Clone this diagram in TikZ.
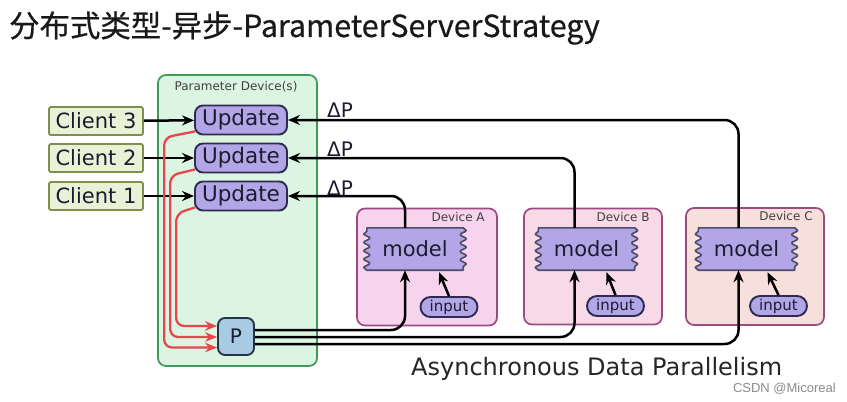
\documentclass[tikz,border=0pt]{standalone}
\usepackage{fontspec}
\setmainfont{DejaVu Sans}
\newfontfamily\cjkfont[FakeBold=0.6]{Noto Sans CJK SC}
\newfontfamily\csdnfont{Liberation Sans}
\usetikzlibrary{calc,arrows.meta,decorations.pathmorphing}
\definecolor{pdfill}{HTML}{DCF5E2}
\definecolor{pdline}{HTML}{3F9A56}
\definecolor{clfill}{HTML}{E9F1D7}
\definecolor{clline}{HTML}{7F8E4C}
\definecolor{upfill}{HTML}{B3A6E6}
\definecolor{upline}{HTML}{2E2A50}
\definecolor{pfill}{HTML}{A8CBE4}
\definecolor{pline}{HTML}{263545}
\definecolor{devline}{HTML}{9E4A82}
\definecolor{devAfill}{HTML}{F6D4EE}
\definecolor{devBfill}{HTML}{F7D9E7}
\definecolor{devCfill}{HTML}{F7E0DB}
\definecolor{redline}{HTML}{E8464E}
\definecolor{txt}{HTML}{1C1C30}
\pgfdeclarelayer{bg}
\pgfdeclarelayer{mid}
\pgfsetlayers{bg,mid,main}
\tikzset{
  clientbox/.style={draw=clline, fill=clfill, line width=1.8pt, rounded corners=2pt,
    minimum width=94pt, minimum height=28pt, inner sep=0pt, font=\fontsize{21}{21}\selectfont, text=txt},
  updbox/.style={draw=upline, fill=upfill, line width=1.9pt, rounded corners=8pt,
    minimum width=92pt, minimum height=29pt, inner sep=0pt, font=\fontsize{21.5}{21.5}\selectfont, text=txt},
  pbox/.style={draw=pline, fill=pfill, line width=1.9pt, rounded corners=7pt,
    minimum width=36pt, minimum height=37pt, inner sep=0pt, font=\fontsize{20}{20}\selectfont, text=txt},
  devbox/.style={draw=devline, line width=1.7pt, rounded corners=8pt, inner sep=0pt},
  devlabel/.style={font=\fontsize{12}{12}\selectfont, text=black!75, inner sep=0pt},
  modelnode/.style={minimum width=96pt, minimum height=42pt, inner sep=0pt,
    font=\fontsize{21}{21}\selectfont, text=txt},
  modelshape/.style={draw=upline!85, fill=upfill, line width=1.6pt, line join=round},
  inbox/.style={draw=upline, fill=upfill, line width=1.9pt, rounded corners=10pt,
    minimum width=57pt, minimum height=20pt, inner sep=0pt, font=\fontsize{15}{15}\selectfont, text=txt},
  arr/.style={draw=black, line width=2.5pt, -{Stealth[length=12pt,width=10pt]}},
  redarr/.style={draw=redline, line width=2.3pt, rounded corners=8pt, -{Stealth[length=12pt,width=9.5pt]}},
  dplabel/.style={font=\fontsize{20}{20}\selectfont, text=txt, inner sep=0pt, anchor=base west},
  wave/.style={decoration={snake, segment length=8.4pt, amplitude=3pt}}
}
\newcommand{\modelwave}[1]{%
  \begin{pgfonlayer}{mid}
  \path[modelshape] (#1.north west) -- (#1.north east)
     decorate[wave]{-- (#1.south east)} -- (#1.south west)
     decorate[wave]{-- (#1.north west)} -- cycle;
  \end{pgfonlayer}}
\begin{document}
\begin{tikzpicture}[x=1pt, y=-1pt]
\useasboundingbox (0,0) rectangle (847,402);
\begin{pgfonlayer}{bg}
\fill[white] (0,0) rectangle (847,402);
\end{pgfonlayer}

% title
\node[anchor=west, inner sep=0pt, font=\cjkfont\fontsize{30.4}{30.4}\selectfont, text=black!90] (title) at (9,28) {分布式类型-异步-ParameterServerStrategy};

% containers
\begin{pgfonlayer}{bg}
\node[draw=pdline, fill=pdfill, line width=1.7pt, rounded corners=8pt, minimum width=159pt, minimum height=291pt, inner sep=0pt] (pd) at (237.5,220.5) {};
\node[devbox, fill=devAfill, minimum width=140pt, minimum height=117pt] (devA) at (427,267) {};
\node[devbox, fill=devBfill, minimum width=138pt, minimum height=116pt] (devB) at (593,266.5) {};
\node[devbox, fill=devCfill, minimum width=138pt, minimum height=117pt] (devC) at (755,266.5) {};
\end{pgfonlayer}
\node[devlabel] (pdl) at (236,87) {Parameter Device(s)};
\node[devlabel, anchor=east] (dAl) at ($(devA.north east)+(-13,9)$) {Device A};
\node[devlabel, anchor=east] (dBl) at ($(devB.north east)+(-13,9)$) {Device B};
\node[devlabel, anchor=east] (dCl) at ($(devC.north east)+(-12,9)$) {Device C};

% clients and updates
\node[clientbox] (c3) at (96,121) {Client 3};
\node[clientbox] (c2) at (96,158) {Client 2};
\node[clientbox] (c1) at (96,196) {Client 1};
\node[updbox] (u3) at (241,120) {Update};
\node[updbox] (u2) at (241,158) {Update};
\node[updbox] (u1) at (241,196) {Update};
\node[pbox] (P) at (236,336.5) {P};

% models and inputs
\node[modelnode] (mA) at (415,249) {model};
\node[modelnode] (mB) at (586.5,249) {model};
\node[modelnode] (mC) at (746.5,249) {model};
\modelwave{mA}\modelwave{mB}\modelwave{mC}
\node[inbox] (iA) at (449,307) {input};
\node[inbox] (iB) at (615.5,306) {input};
\node[inbox] (iC) at (778.5,306) {input};

% client -> update
\draw[arr] (c3) -- (u3);
\draw[arr] (c2) -- (u2);
\draw[arr] (c1) -- (u1);

% delta P
\draw[arr, rounded corners=14pt] ($(mA.north)+(-10,0)$) |- (u1.east);
\draw[arr, rounded corners=14pt] ($(mB.north)+(-12,0)$) |- (u2.east);
\draw[arr, rounded corners=14pt] ($(mC.north)+(-8,0)$) |- (u3.east);
\node[dplabel] (dp1) at (327,195) {ΔP};
\node[dplabel] (dp2) at (327,156) {ΔP};
\node[dplabel] (dp3) at (327,117) {ΔP};

% P -> models
\draw[arr, rounded corners=14pt] ($(P.east)+(0,-6.5)$) -| ($(mA.south)+(-10,0)$);
\draw[arr, rounded corners=14pt] ($(P.east)+(0,0.5)$) -| ($(mB.south)+(-12,0)$);
\draw[arr, rounded corners=14pt] ($(P.east)+(0,7.5)$) -| ($(mC.south)+(-8,0)$);

% input -> model
\draw[arr] (iA.north) -- ($(mA.south)+(24,2)$);
\draw[arr] (iB.north) -- ($(mB.south)+(20,2)$);
\draw[arr] (iC.north) -- ($(mC.south)+(21,2)$);

% update -> P (red)
\draw[redarr] ($(u3.south west)+(1,-4)$) -- ($(pd.west |- u3.south)+(7,2)$) -- ($(pd.west |- P.west)+(7,11)$) -- ($(P.west)+(0,11)$);
\draw[redarr] ($(u2.south west)+(1,-4)$) -- ($(pd.west |- u2.south)+(13,2)$) -- ($(pd.west |- P.west)+(13,0.5)$) -- ($(P.west)+(0,0.5)$);
\draw[redarr] ($(u1.south west)+(1,-4)$) -- ($(pd.west |- u1.south)+(19,2)$) -- ($(pd.west |- P.west)+(19,-10.5)$) -- ($(P.west)+(0,-10.5)$);

% captions
\node[anchor=base west, inner sep=0pt, font=\fontsize{24}{24}\selectfont, text=black!85] (cap) at (411,375) {Asynchronous Data Parallelism};
\node[anchor=base east, inner sep=0pt, font=\csdnfont\fontsize{13}{13}\selectfont, text=black!45] (csdn) at (836,392.5) {CSDN @Micoreal};
\end{tikzpicture}
\end{document}
